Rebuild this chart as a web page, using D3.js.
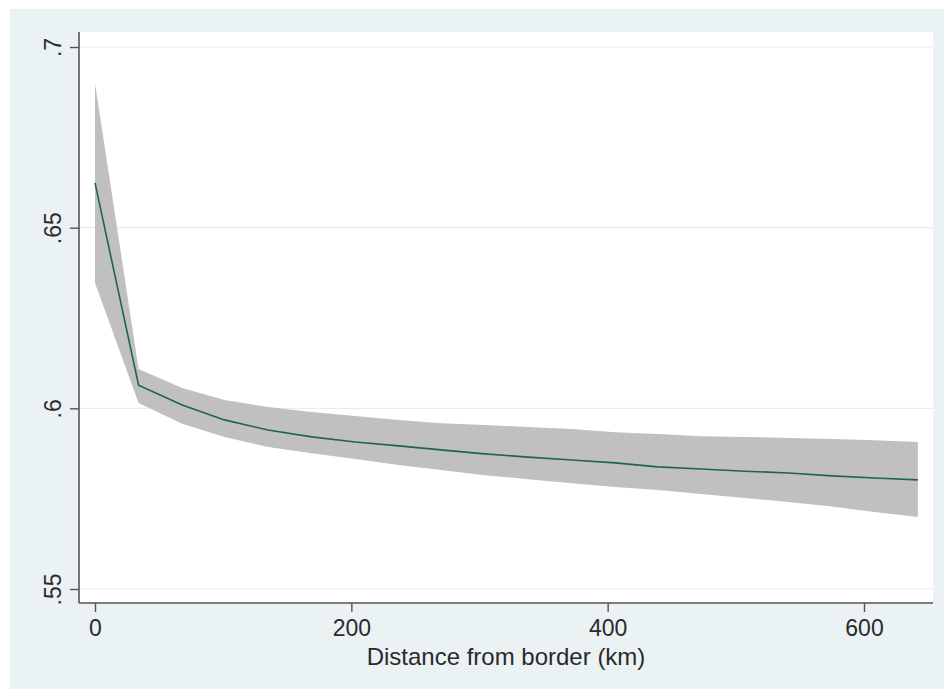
<!DOCTYPE html>
<html>
<head>
<meta charset="utf-8">
<script src="https://cdn.jsdelivr.net/npm/d3@7"></script>
<style>
  html, body { margin: 0; padding: 0; background: #ffffff; }
  svg { display: block; font-family: "Liberation Sans", Arial, sans-serif; }
</style>
</head>
<body>
<svg id="chart"></svg>
<script>
// distance bins (km) and estimated share with 95% CI
const distance = [0, 34, 68, 101, 135, 169, 203, 237, 270, 304, 338, 372, 406, 439, 473, 507, 541, 575, 608, 642];
const estimate = [.6624, .6064, .6009, .5968, .5940, .5921, .5907, .5896, .5885, .5874,
                  .5865, .5857, .5849, .5838, .5832, .5826, .5821, .5813, .5807, .5802];
const ciUpper  = [.6900, .6109, .6056, .6023, .6004, .5990, .5979, .5968, .5959, .5954,
                  .5948, .5943, .5934, .5929, .5923, .5921, .5918, .5915, .5912, .5907];
const ciLower  = [.6347, .6015, .5957, .5921, .5893, .5876, .5860, .5843, .5829, .5815,
                  .5804, .5793, .5782, .5774, .5763, .5752, .5741, .5728, .5713, .5699];
const xTicks = [0, 200, 400, 600];
const yTicks = [.55, .6, .65, .7];
const xTitle = 'Distance from border (km)';

const W = 944, H = 689;
const BG = '#eaf2f3';
const INK = '#2a2a2a';

const svg = d3.select('#chart').attr('width', W).attr('height', H);

// graph region + plot region
svg.append('rect').attr('x', 10).attr('y', 9).attr('width', W - 10).attr('height', H - 9).attr('fill', BG);
const plot = { left: 79, right: 933, top: 32, bottom: 603 };
svg.append('rect')
  .attr('x', plot.left).attr('y', plot.top)
  .attr('width', plot.right - plot.left).attr('height', plot.bottom - plot.top)
  .attr('fill', '#ffffff');

const x = d3.scaleLinear().domain([0, 600]).range([95, 864]);
const y = d3.scaleLinear().domain([.55, .7]).range([589, 47]);

// gridlines
svg.append('g').selectAll('line')
  .data(yTicks)
  .join('line')
  .attr('x1', plot.left + 1).attr('x2', plot.right)
  .attr('y1', d => y(d)).attr('y2', d => y(d))
  .attr('stroke', '#e4edef').attr('stroke-width', 1.2);

// confidence band
const rows = distance.map((d, i) => ({ d, est: estimate[i], lo: ciLower[i], hi: ciUpper[i] }));
svg.append('path')
  .datum(rows)
  .attr('fill', '#c0c0c0')
  .attr('d', d3.area().x(r => x(r.d)).y0(r => y(r.lo)).y1(r => y(r.hi)));

// point estimate
svg.append('path')
  .datum(rows)
  .attr('fill', 'none')
  .attr('stroke', '#1e6456')
  .attr('stroke-width', 1.6)
  .attr('d', d3.line().x(r => x(r.d)).y(r => y(r.est)));

// y axis
const yAxis = svg.append('g')
  .attr('transform', `translate(${plot.left},0)`)
  .call(d3.axisLeft(y).tickValues(yTicks).tickSize(9).tickPadding(0)
    .tickFormat(d => d3.format('.2f')(d).replace(/^0/, '').replace(/0$/, '')));
yAxis.select('.domain').attr('d', `M0,${plot.top}V${plot.bottom}`).attr('stroke', '#555').attr('stroke-width', 1.6);
yAxis.selectAll('.tick line').attr('stroke', '#555').attr('stroke-width', 1.4);
yAxis.selectAll('.tick text')
  .attr('transform', 'translate(-26,0) rotate(-90)')
  .attr('x', 0).attr('y', 0).attr('dy', '0.35em')
  .attr('text-anchor', 'middle')
  .attr('font-size', 23).attr('fill', INK);

// x axis
const xAxis = svg.append('g')
  .attr('transform', `translate(0,${plot.bottom})`)
  .call(d3.axisBottom(x).tickValues(xTicks).tickSize(9).tickPadding(8).tickFormat(d3.format('d')));
xAxis.select('.domain').attr('d', `M${plot.left},0H${plot.right}`).attr('stroke', '#555').attr('stroke-width', 1.6);
xAxis.selectAll('.tick line').attr('stroke', '#555').attr('stroke-width', 1.4);
xAxis.selectAll('.tick text').attr('font-size', 23).attr('fill', INK);

// axis title
svg.append('text')
  .attr('x', (plot.left + plot.right) / 2).attr('y', 665)
  .attr('text-anchor', 'middle')
  .attr('font-size', 24).attr('fill', INK)
  .text(xTitle);
</script>
</body>
</html>
